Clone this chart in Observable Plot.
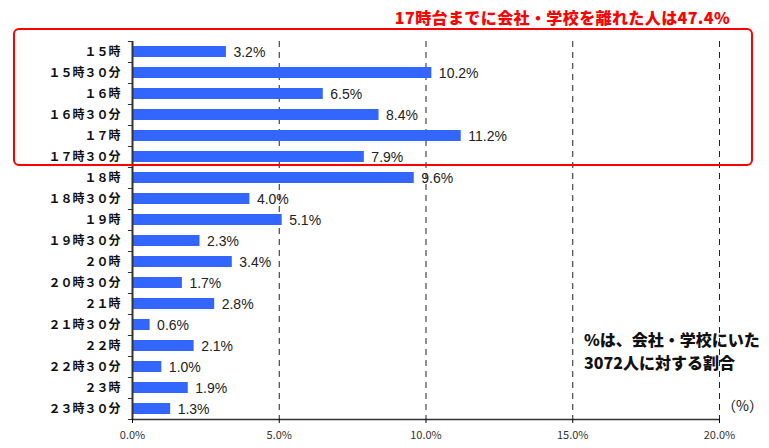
<!DOCTYPE html>
<html><head><meta charset="utf-8">
<script src="https://cdn.jsdelivr.net/npm/d3@7"></script>
<script src="https://cdn.jsdelivr.net/npm/@observablehq/plot@0.6"></script>
<style>
body{margin:0;background:#fff;}
#wrap{position:relative;width:769px;height:448px;font-family:"Noto Sans CJK JP","Noto Sans",sans-serif;}
#title{position:absolute;left:380px;top:5px;width:365px;text-align:center;color:#ff0000;font-weight:900;font-size:16px;letter-spacing:0.4px;white-space:nowrap;}
#box{position:absolute;left:13px;top:28px;width:736px;height:134px;border:2px solid #ff0000;border-radius:6px;}
#note{position:absolute;left:584px;top:328px;font-weight:900;font-size:16px;line-height:23px;color:#111;white-space:nowrap;}
#unit{position:absolute;left:722px;top:395px;font-size:14px;color:#111;white-space:nowrap;}
svg{position:absolute;left:0;top:0;}
</style></head>
<body><div id="wrap">
<div id="title">17時台までに会社・学校を離れた人は47.4%</div>
<div id="box"></div>
<div id="note">%は、会社・学校にいた<br>3072人に対する割合</div>
<div id="unit">（%）</div>
</div>
<script>
const times = ["１５時","１５時３０分","１６時","１６時３０分","１７時","１７時３０分","１８時","１８時３０分","１９時","１９時３０分","２０時","２０時３０分","２１時","２１時３０分","２２時","２２時３０分","２３時","２３時３０分"];
const values = [3.2,10.2,6.5,8.4,11.2,7.9,9.6,4.0,5.1,2.3,3.4,1.7,2.8,0.6,2.1,1.0,1.9,1.3];
const xTicks = [0,5,10,15,20];
const data = times.map((t,i)=>({t, v: values[i]}));
const half = 10.5;
const chart = Plot.plot({
  width: 769, height: 448,
  marginLeft: 132, marginRight: 50, marginTop: 41, marginBottom: 29,
  style: {fontFamily: '"Noto Sans CJK JP","Noto Sans",sans-serif', background: "transparent"},
  x: {domain: [0,20]},
  y: {domain: times, paddingInner: 0.48, paddingOuter: 0.24},
  marks: [
    Plot.ruleX(xTicks.filter(d=>d>0), {stroke:"#222", strokeDasharray:"6,5", strokeWidth:1}),
    Plot.barX(data, {x: "v", y: "t", fill: "#3366ff"}),
    Plot.text(data, {x: "v", y: "t", text: d => d.v.toFixed(1)+"%", textAnchor: "start", dx: 7, dy: 1, fontSize: 14, fill: "#222", fontFamily: '"Liberation Sans",Arial,sans-serif'}),
    Plot.ruleY(times, {y: d=>d, x1: -0.14, x2: 0, dy: -half, stroke: "#333"}),
    Plot.ruleY([times[times.length-1]], {y: d=>d, x1: -0.14, x2: 0, dy: half, stroke: "#333"}),
    Plot.ruleY([times[times.length-1]], {y: d=>d, x1: 0, x2: 20, dy: half, stroke: "#333", strokeWidth: 1.5}),
    Plot.ruleX([0], {stroke: "#333", strokeWidth: 2}),
    Plot.axisX({ticks: xTicks, tickFormat: d => d.toFixed(1)+"%", tickSize: 4, tickPadding: 8, fontSize: 11, label: null, fill: "#333"}),
    Plot.axisY({tickSize: 0, tickPadding: 12, fontSize: 12, fontWeight: "bold", label: null, fill: "#111"})
  ]
});
document.getElementById("wrap").prepend(chart);
</script>
</body></html>
